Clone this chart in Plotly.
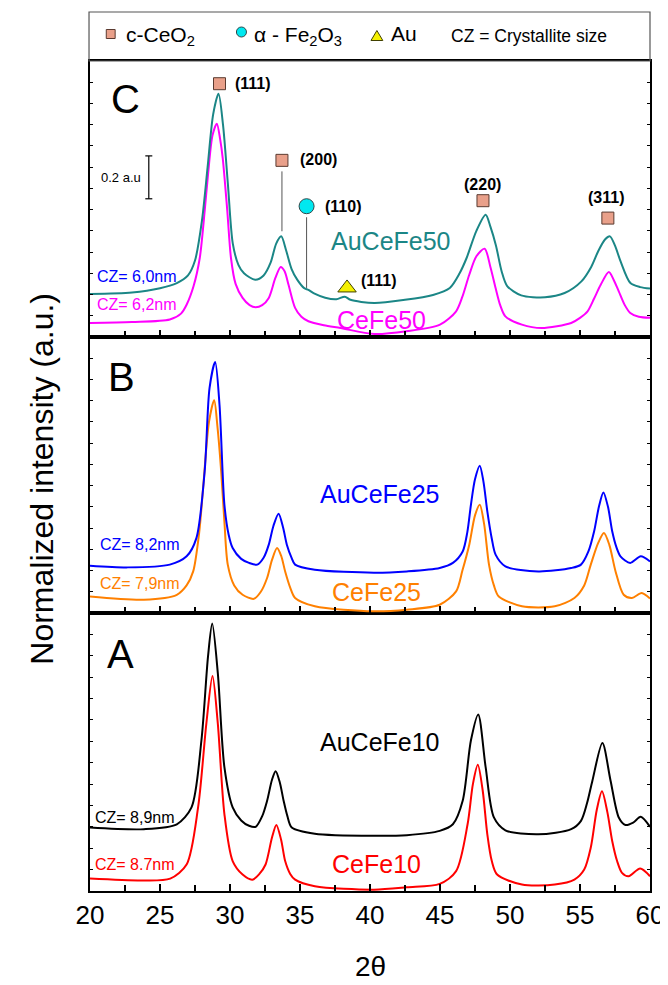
import plotly.graph_objects as go

# ---------------- data ----------------
# Panel C
aucefe50_x = [20, 23, 25, 26.2, 27.0, 27.5, 28.0, 28.4, 28.8, 29.18, 29.5, 29.85, 30.2, 30.6, 31.0, 31.8,
              32.4, 32.9, 33.3, 33.66, 34.0, 34.4, 34.8, 35.3, 35.6, 36.0, 36.8, 37.6, 38.2, 38.6, 40.3,
              42.5, 44.5, 45.7, 46.4, 46.9, 47.6, 48.26, 48.6, 49.0, 49.4, 49.8, 50.8, 52.5, 53.9, 55.1,
              55.8, 56.3, 56.8, 57.14, 57.5, 57.9, 58.6, 59.3, 60]
aucefe50_y = [0.203, 0.21, 0.23, 0.254, 0.29, 0.36, 0.55, 0.80, 1.05, 1.146, 1.0, 0.72, 0.44, 0.34, 0.30, 0.27,
              0.29, 0.35, 0.44, 0.474, 0.41, 0.32, 0.27, 0.23, 0.222, 0.205, 0.185, 0.178, 0.19, 0.175, 0.16,
              0.175, 0.198, 0.231, 0.30, 0.372, 0.50, 0.576, 0.52, 0.43, 0.31, 0.24, 0.196, 0.187, 0.207, 0.262,
              0.33, 0.404, 0.46, 0.474, 0.43, 0.356, 0.254, 0.235, 0.228]
cefe50_x = [20, 23, 25.7, 26.5, 26.9, 27.4, 27.84, 28.2, 28.43, 28.75, 29.06, 29.3, 29.48, 29.8, 30.07, 30.4,
            30.9, 31.4, 31.83, 32.3, 32.77, 33.24, 33.62, 33.9, 34.18, 34.65, 35.1, 35.6, 36.7, 37.9, 40.3,
            42.6, 45.0, 46.15, 46.6, 47.09, 47.6, 48.19, 48.6, 48.97, 49.3, 49.67, 50.85, 52.25, 54.37, 55.0,
            55.54, 56.0, 56.48, 57.06, 57.4, 57.77, 58.2, 58.59, 59.2, 60]
cefe50_y = [0.066, 0.07, 0.082, 0.11, 0.152, 0.24, 0.372, 0.6, 0.765, 0.95, 1.005, 0.93, 0.843, 0.6, 0.372, 0.25,
            0.184, 0.15, 0.14, 0.15, 0.184, 0.278, 0.33, 0.31, 0.246, 0.137, 0.095, 0.074, 0.055, 0.042, 0.014,
            0.027, 0.058, 0.121, 0.19, 0.293, 0.38, 0.416, 0.33, 0.231, 0.15, 0.097, 0.058, 0.042, 0.066, 0.09,
            0.121, 0.18, 0.246, 0.306, 0.27, 0.215, 0.15, 0.113, 0.095, 0.09]
# Panel B
aucefe25_x = [20, 22.7, 25.7, 26.9, 27.6, 28.19, 28.54, 28.94, 29.25, 29.6, 29.9, 30.19, 30.8, 31.36, 31.95,
              32.4, 32.77, 33.1, 33.47, 33.8, 34.06, 34.4, 34.65, 36.06, 40.28, 42.63, 44.98, 45.92, 46.62,
              46.95, 47.21, 47.5, 47.84, 48.1, 48.38, 48.7, 48.97, 49.67, 52.02, 54.37, 55.07, 55.6, 56.01,
              56.35, 56.67, 57.0, 57.3, 57.6, 57.89, 58.59, 59.34, 60]
aucefe25_y = [0.223, 0.215, 0.228, 0.267, 0.353, 0.667, 1.06, 1.182, 0.981, 0.51, 0.37, 0.306, 0.255, 0.236, 0.228,
              0.26, 0.322, 0.41, 0.468, 0.4, 0.322, 0.26, 0.228, 0.204, 0.19, 0.196, 0.212, 0.236, 0.29,
              0.38, 0.51, 0.63, 0.694, 0.62, 0.479, 0.35, 0.275, 0.22, 0.196, 0.212, 0.228, 0.29, 0.385,
              0.5, 0.568, 0.5, 0.385, 0.31, 0.267, 0.236, 0.267, 0.243]
cefe25_x = [20, 23.85, 26.2, 26.9, 27.37, 27.8, 28.08, 28.5, 28.87, 29.1, 29.37, 29.6, 29.84, 30.3, 30.9, 31.71,
            32.2, 32.65, 33.0, 33.36, 33.65, 33.94, 34.3, 34.65, 36.06, 40.28, 42.63, 44.98, 46.15, 46.6, 47.09,
            47.5, 47.84, 48.15, 48.5, 48.85, 49.2, 50.85, 53.2, 54.6, 55.3, 55.77, 56.3, 56.71, 57.1, 57.54,
            58.12, 58.71, 59.41, 60]
cefe25_y = [0.078, 0.063, 0.086, 0.13, 0.196, 0.38, 0.589, 0.9, 1.002, 0.88, 0.667, 0.43, 0.228, 0.13, 0.086, 0.067,
            0.1, 0.165, 0.25, 0.306, 0.27, 0.196, 0.12, 0.071, 0.032, 0.008, 0.016, 0.039, 0.102, 0.2, 0.322,
            0.46, 0.51, 0.42, 0.228, 0.13, 0.078, 0.032, 0.032, 0.071, 0.13, 0.228, 0.33, 0.377, 0.32, 0.196,
            0.086, 0.071, 0.094, 0.068]
# Panel A
aucefe10_x = [20, 23.85, 26.2, 27.25, 27.96, 28.43, 28.73, 29.13, 29.6, 30.19, 30.8, 31.36, 31.83, 32.3, 32.65,
              33.0, 33.26, 33.55, 33.83, 34.1, 34.41, 36.06, 40.28, 42.63, 44.98, 45.92, 46.62, 47.21, 47.73,
              48.26, 48.85, 49.67, 52.02, 54.37, 55.07, 55.5, 55.89, 56.6, 57.18, 57.77, 58.24, 58.8, 59.34, 60]
aucefe10_y = [0.297, 0.289, 0.312, 0.391, 0.705, 1.097, 1.251, 1.019, 0.579, 0.391, 0.33, 0.305, 0.3, 0.35, 0.422,
              0.52, 0.56, 0.51, 0.422, 0.35, 0.297, 0.268, 0.258, 0.261, 0.281, 0.312, 0.422, 0.705, 0.826,
              0.579, 0.344, 0.284, 0.265, 0.289, 0.328, 0.41, 0.517, 0.692, 0.517, 0.344, 0.309, 0.32, 0.347, 0.30]
cefe10_x = [20, 23.85, 25.73, 26.9, 27.72, 28.31, 28.75, 29.13, 29.6, 30.19, 30.9, 31.6, 32.1, 32.54, 33.0, 33.31,
            33.65, 33.94, 34.3, 34.65, 36.06, 40.28, 42.63, 44.98, 46.15, 46.97, 47.35, 47.7, 48.05, 48.38, 48.7,
            49.08, 50.85, 53.2, 54.6, 55.3, 55.77, 56.2, 56.57, 56.95, 57.3, 57.65, 58.0, 58.47, 59.3, 60]
cefe10_y = [0.058, 0.049, 0.058, 0.124, 0.391, 0.783, 1.006, 0.783, 0.36, 0.14, 0.077, 0.053, 0.08, 0.124, 0.25, 0.309,
            0.24, 0.14, 0.08, 0.053, 0.022, 0.006, 0.017, 0.033, 0.093, 0.312, 0.5, 0.59, 0.47, 0.265, 0.14,
            0.077, 0.03, 0.03, 0.053, 0.1, 0.203, 0.38, 0.466, 0.37, 0.234, 0.14, 0.085, 0.069, 0.105, 0.069]

# Peak markers (panel C)
ceo2_peak_x = [29.25, 33.71, 48.07, 56.99]
ceo2_peak_y = [1.193, 0.832, 0.642, 0.56]
ceo2_labels = ["(111)", "(200)", "(220)", "(311)"]
fe2o3_peak_x = [35.47]
fe2o3_peak_y = [0.616]
fe2o3_labels = ["(110)"]
au_peak_x = [38.36]
au_peak_y = [0.231]
au_labels = ["(111)"]

x_ticks = [20, 25, 30, 35, 40, 45, 50, 55, 60]

TEAL = "#1b8686"
FONT = "Liberation Sans, Arial, sans-serif"

fig = go.Figure()

def add_line(x, y, color, ax):
    fig.add_trace(go.Scatter(x=x, y=y, mode="lines", line=dict(color=color, width=2, shape="spline", smoothing=0.8),
                             xaxis=ax[0], yaxis=ax[1], showlegend=False, hoverinfo="skip"))

add_line(cefe10_x, cefe10_y, "#ff0000", ("x", "y"))
add_line(aucefe10_x, aucefe10_y, "#000000", ("x", "y"))
add_line(cefe25_x, cefe25_y, "#ff8000", ("x2", "y2"))
add_line(aucefe25_x, aucefe25_y, "#0000ff", ("x2", "y2"))
add_line(cefe50_x, cefe50_y, "#ff00ff", ("x3", "y3"))
add_line(aucefe50_x, aucefe50_y, TEAL, ("x3", "y3"))

# peak markers
fig.add_trace(go.Scatter(x=ceo2_peak_x, y=ceo2_peak_y, mode="markers", xaxis="x3", yaxis="y3",
                         marker=dict(symbol="square", size=12, color="#e9a08a", line=dict(color="#5a3a30", width=1)),
                         showlegend=False, hoverinfo="skip", cliponaxis=False))
fig.add_trace(go.Scatter(x=fe2o3_peak_x, y=fe2o3_peak_y, mode="markers", xaxis="x3", yaxis="y3",
                         marker=dict(symbol="circle", size=15, color="#00e8f0", line=dict(color="#30484a", width=1)),
                         showlegend=False, hoverinfo="skip", cliponaxis=False))
fig.add_trace(go.Scatter(x=au_peak_x, y=au_peak_y, mode="markers", xaxis="x3", yaxis="y3",
                         marker=dict(symbol="triangle-up", size=16, color="#f4f000", line=dict(color="#404000", width=1)),
                         showlegend=False, hoverinfo="skip", cliponaxis=False))

ann = []
def A(x, y, text, size, color="black", xref="x3", yref="y3", xanchor="center", bold=False, **kw):
    t = f"<b>{text}</b>" if bold else text
    ann.append(dict(x=x, y=y, xref=xref, yref=yref, text=t, showarrow=False, xanchor=xanchor, yanchor="middle",
                    font=dict(size=size, color=color, family=FONT), **kw))

# peak labels
A(ceo2_peak_x[0] + 0.93, ceo2_peak_y[0], ceo2_labels[0], 16, xanchor="left", bold=True)
A(ceo2_peak_x[1] + 1.15, ceo2_peak_y[1] + 0.006, ceo2_labels[1], 16, xanchor="left", bold=True)
A(ceo2_peak_x[2], ceo2_peak_y[2] + 0.075, ceo2_labels[2], 16, bold=True)
A(ceo2_peak_x[3] - 0.11, ceo2_peak_y[3] + 0.098, ceo2_labels[3], 16, bold=True)
A(fe2o3_peak_x[0] + 1.15, fe2o3_peak_y[0], fe2o3_labels[0], 16, xanchor="left", bold=True)
A(au_peak_x[0] + 0.87, au_peak_y[0] + 0.037, au_labels[0], 16, xanchor="left", bold=True)

# panel letters
A(22.54, 1.121, "C", 40)
A(22.23, 1.112, "B", 40, xref="x2", yref="y2")
A(22.18, 1.107, "A", 40, xref="x", yref="y")

# scale bar text
A(23.8, 0.752, "0.2 a.u", 13, xanchor="right")

# CZ labels
A(20.33, 0.283, "CZ= 6,0nm", 16, color="#0000ff", xanchor="left")
A(20.33, 0.152, "CZ= 6,2nm", 16, color="#ff00ff", xanchor="left")
A(20.56, 0.322, "CZ= 8,2nm", 16, color="#0000ff", xanchor="left", xref="x2", yref="y2")
A(20.56, 0.137, "CZ= 7,9nm", 16, color="#ff8000", xanchor="left", xref="x2", yref="y2")
A(20.21, 0.344, "CZ= 8,9nm", 16, color="#000000", xanchor="left", xref="x", yref="y")
A(20.21, 0.122, "CZ= 8.7nm", 16, color="#ff0000", xanchor="left", xref="x", yref="y")

# sample names
A(41.51, 0.454, "AuCeFe50", 25, color=TEAL)
A(40.85, 0.080, "CeFe50", 25, color="#ff00ff")
A(40.70, 0.560, "AuCeFe25", 25, color="#0000ff", xref="x2", yref="y2")
A(40.49, 0.099, "CeFe25", 25, color="#ff8000", xref="x2", yref="y2")
A(40.70, 0.697, "AuCeFe10", 25, color="#000000", xref="x", yref="y")
A(40.49, 0.127, "CeFe10", 25, color="#ff0000", xref="x", yref="y")

# legend box contents (paper coords)
def px(xp): return (xp - 82) / 568
def py(yp): return (883 - yp) / 830
A(px(116), py(28), "c-CeO<sub>2</sub>", 21, xref="paper", yref="paper", xanchor="left")
A(px(246), py(28), "α - Fe<sub>2</sub>O<sub>3</sub>", 21, xref="paper", yref="paper", xanchor="left")
A(px(385), py(26), "Au", 21, xref="paper", yref="paper", xanchor="left")
A(px(446), py(28), "CZ = Crystallite size", 17.5, xref="paper", yref="paper", xanchor="left")

# axis titles
A(px(366), py(958), "2θ", 28, xref="paper", yref="paper")
A(px(33), py(471), "Normalized intensity (a.u.)", 32, xref="paper", yref="paper", textangle=-90)

shapes = [
    # legend frame
    dict(type="rect", xref="paper", yref="paper", x0=px(81), x1=px(650), y0=py(53), y1=py(4),
         line=dict(color="#555555", width=1.2), fillcolor="rgba(0,0,0,0)"),
    dict(type="rect", xref="paper", yref="paper", x0=px(98.5), x1=px(107.5), y0=py(30.5), y1=py(21.5),
         line=dict(color="#5a3a30", width=1), fillcolor="#e9a08a"),
    dict(type="circle", xref="paper", yref="paper", x0=px(230.5), x1=px(240.7), y0=py(29), y1=py(19),
         line=dict(color="#30484a", width=1), fillcolor="#00e8f0"),
    dict(type="path", xref="paper", yref="paper",
         path=f"M {px(367)} {py(32.5)} L {px(379)} {py(32.5)} L {px(373)} {py(22.5)} Z",
         line=dict(color="#404000", width=1), fillcolor="#f4f000"),
    # leader lines
    dict(type="line", xref="x3", yref="y3", x0=ceo2_peak_x[1], x1=ceo2_peak_x[1], y0=0.78, y1=0.498,
         line=dict(color="#555555", width=1)),
    dict(type="line", xref="x3", yref="y3", x0=fe2o3_peak_x[0], x1=fe2o3_peak_x[0], y0=0.564, y1=0.231,
         line=dict(color="#555555", width=1)),
    # scale bar
    dict(type="line", xref="x3", yref="y3", x0=24.2, x1=24.2, y0=0.651, y1=0.853, line=dict(color="black", width=1.2)),
    dict(type="line", xref="x3", yref="y3", x0=23.95, x1=24.45, y0=0.651, y1=0.651, line=dict(color="black", width=1.2)),
    dict(type="line", xref="x3", yref="y3", x0=23.95, x1=24.45, y0=0.853, y1=0.853, line=dict(color="black", width=1.2)),
]

xcommon = dict(range=[20, 60], showgrid=False, zeroline=False, showline=True, linecolor="black", linewidth=1.5,
               mirror=True, ticks="inside", ticklen=7, tickwidth=1.5, tickcolor="black",
               tickvals=x_ticks, minor=dict(dtick=2.5, tick0=20, ticks="inside", ticklen=6, tickwidth=1.5, tickcolor="black"))
ycommon = dict(range=[0, 1.3], showgrid=False, zeroline=False, showline=True, linecolor="black", linewidth=1.5,
               mirror="ticks", ticks="inside", ticklen=3, tickwidth=1, tickcolor="black",
               dtick=0.1, tick0=0, showticklabels=False)

dA = [0, 0.3349]
dB = [0.3349, 0.6675]
dC = [0.6675, 1]

fig.update_layout(
    width=668, height=985,
    margin=dict(l=82, r=18, t=53, b=102),
    paper_bgcolor="white", plot_bgcolor="white",
    font=dict(family=FONT, color="black"),
    xaxis=dict(**xcommon, anchor="y", showticklabels=True, tickfont=dict(size=26, family=FONT)),
    xaxis2=dict(**xcommon, anchor="y2", matches="x", showticklabels=False),
    xaxis3=dict(**xcommon, anchor="y3", matches="x", showticklabels=False),
    yaxis=dict(**ycommon, domain=dA, anchor="x"),
    yaxis2=dict(**ycommon, domain=dB, anchor="x2"),
    yaxis3=dict(**ycommon, domain=dC, anchor="x3"),
    annotations=ann,
    shapes=shapes,
    showlegend=False,
)

fig.write_html("out.html")
